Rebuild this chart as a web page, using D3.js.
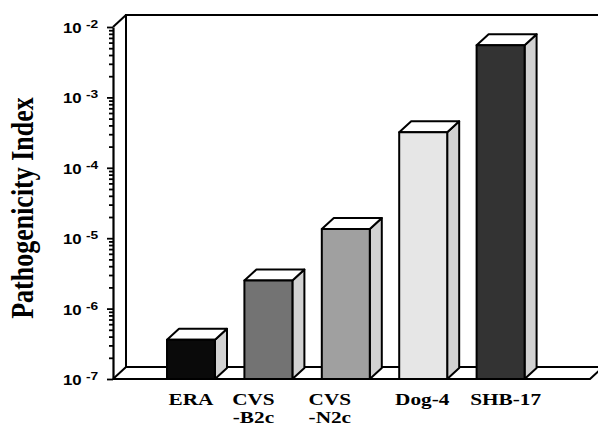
<!DOCTYPE html>
<meta charset="utf-8">
<style>
body { margin: 0; background: #fff; }
.lbl { font-family: "Liberation Serif", "Times New Roman", serif; font-weight: bold; }
.tk { font-family: "Liberation Sans", Arial, sans-serif; font-weight: bold; }
</style>
<svg width="598" height="428"></svg>
<script src="https://d3js.org/d3.v7.min.js"></script>
<script>
"use strict";

// data
var strains = ["ERA", "CVS-B2c", "CVS-N2c", "Dog-4", "SHB-17"];
var labelLines = [["ERA"], ["CVS", "-B2c"], ["CVS", "-N2c"], ["Dog-4"], ["SHB-17"]];
var index = [3.6e-7, 2.5e-6, 1.35e-5, 3.2e-4, 5.5e-3];
var fills = ["#0a0a0a", "#737373", "#a0a0a0", "#e6e6e6", "#333333"];
var decades = [-7, -6, -5, -4, -3, -2];

var svg = d3.select("svg"),
    width = +svg.attr("width"),
    height = +svg.attr("height");

svg.append("rect").attr("width", width).attr("height", height).attr("fill", "#fff");

// frame
var x0 = 113, yBot = 379, yTop = 27;
var wdx = 13, wdy = -12;   // depth of the walls
var bdx = 12, bdy = -11;   // depth of the bars

var y = d3.scaleLog().domain([1e-7, 1e-2]).range([yBot, yTop]);
var x = d3.scaleBand().domain(strains).range([137.6, 554]).paddingInner(0.38).paddingOuter(0.38);

var frame = svg.append("g").attr("stroke", "#000").attr("stroke-width", 2).attr("fill", "none");
// back wall + top edge
frame.append("path").attr("d",
  "M" + (x0 + wdx) + "," + (yBot + wdy) + "V" + (yTop + wdy) + "H" + (width + 5));
frame.append("path").attr("d",
  "M" + x0 + "," + yTop + "L" + (x0 + wdx) + "," + (yTop + wdy));
// floor
frame.append("path").attr("d",
  "M" + x0 + "," + yBot + "L" + (x0 + wdx) + "," + (yBot + wdy) + "H" + (width + 5));
frame.append("path").attr("d",
  "M" + x0 + "," + yBot + "H590L" + (590 + wdx) + "," + (yBot + wdy));

// axis with log ticks
var ax = svg.append("g")
  .attr("transform", "translate(" + x0 + ",0)")
  .call(d3.axisLeft(y).tickValues(y.ticks()).tickFormat("").tickSizeOuter(0));
ax.select(".domain").attr("stroke-width", 2.2);
ax.selectAll(".tick line")
  .attr("stroke-width", 1.8)
  .attr("x2", function(d) {
    var m = Math.round(d / Math.pow(10, Math.floor(Math.log10(d) + 1e-9)));
    return m === 1 ? -6 : -4;
  });

// tick labels 10^n
decades.forEach(function(e) {
  var t = svg.append("text").attr("class", "tk")
    .attr("transform", "translate(63," + (y(Math.pow(10, e)) + 6) + ") scale(1.2,1)")
    .attr("font-size", 14);
  t.append("tspan").text("10");
  t.append("tspan").attr("dx", 3.5).attr("dy", -5).attr("font-size", 11.5).text(String(e));
});

// y title
svg.append("text").attr("class", "lbl")
  .attr("transform", "translate(33,208) scale(1.2,1) rotate(-90)")
  .attr("text-anchor", "middle")
  .attr("font-size", 26)
  .text("Pathogenicity Index");

// bars
var bars = svg.append("g").selectAll("g")
  .data(strains)
  .enter().append("g")
  .attr("stroke", "#000").attr("stroke-width", 2).attr("stroke-linejoin", "round");

bars.append("path")
  .attr("fill", "#d2d2d2")
  .attr("d", function(d, i) {
    var xr = x(d) + x.bandwidth(), yt = y(index[i]);
    return "M" + xr + "," + yt + "L" + (xr + bdx) + "," + (yt + bdy) +
      "V" + (yBot + bdy) + "L" + xr + "," + yBot + "Z";
  });
bars.append("path")
  .attr("fill", "#fff")
  .attr("d", function(d, i) {
    var xl = x(d), xr = xl + x.bandwidth(), yt = y(index[i]);
    return "M" + xl + "," + yt + "L" + (xl + bdx) + "," + (yt + bdy) +
      "H" + (xr + bdx) + "L" + xr + "," + yt + "Z";
  });
bars.append("rect")
  .attr("x", function(d) { return x(d); })
  .attr("y", function(d, i) { return y(index[i]); })
  .attr("width", x.bandwidth())
  .attr("height", function(d, i) { return yBot - y(index[i]); })
  .attr("fill", function(d, i) { return fills[i]; });

// category labels (the two CVS labels sit a bit left of their bars)
var labelShift = [0, -15, -16, -1, 5];
strains.forEach(function(s, i) {
  labelLines[i].forEach(function(line, j) {
    svg.append("text").attr("class", "lbl")
      .attr("transform", "translate(" + (x(s) + x.bandwidth() / 2 + labelShift[i]) + "," +
        (405 + j * 18) + ") scale(1.25,1)")
      .attr("text-anchor", "middle")
      .attr("font-size", 17)
      .text(line);
  });
});
</script>
